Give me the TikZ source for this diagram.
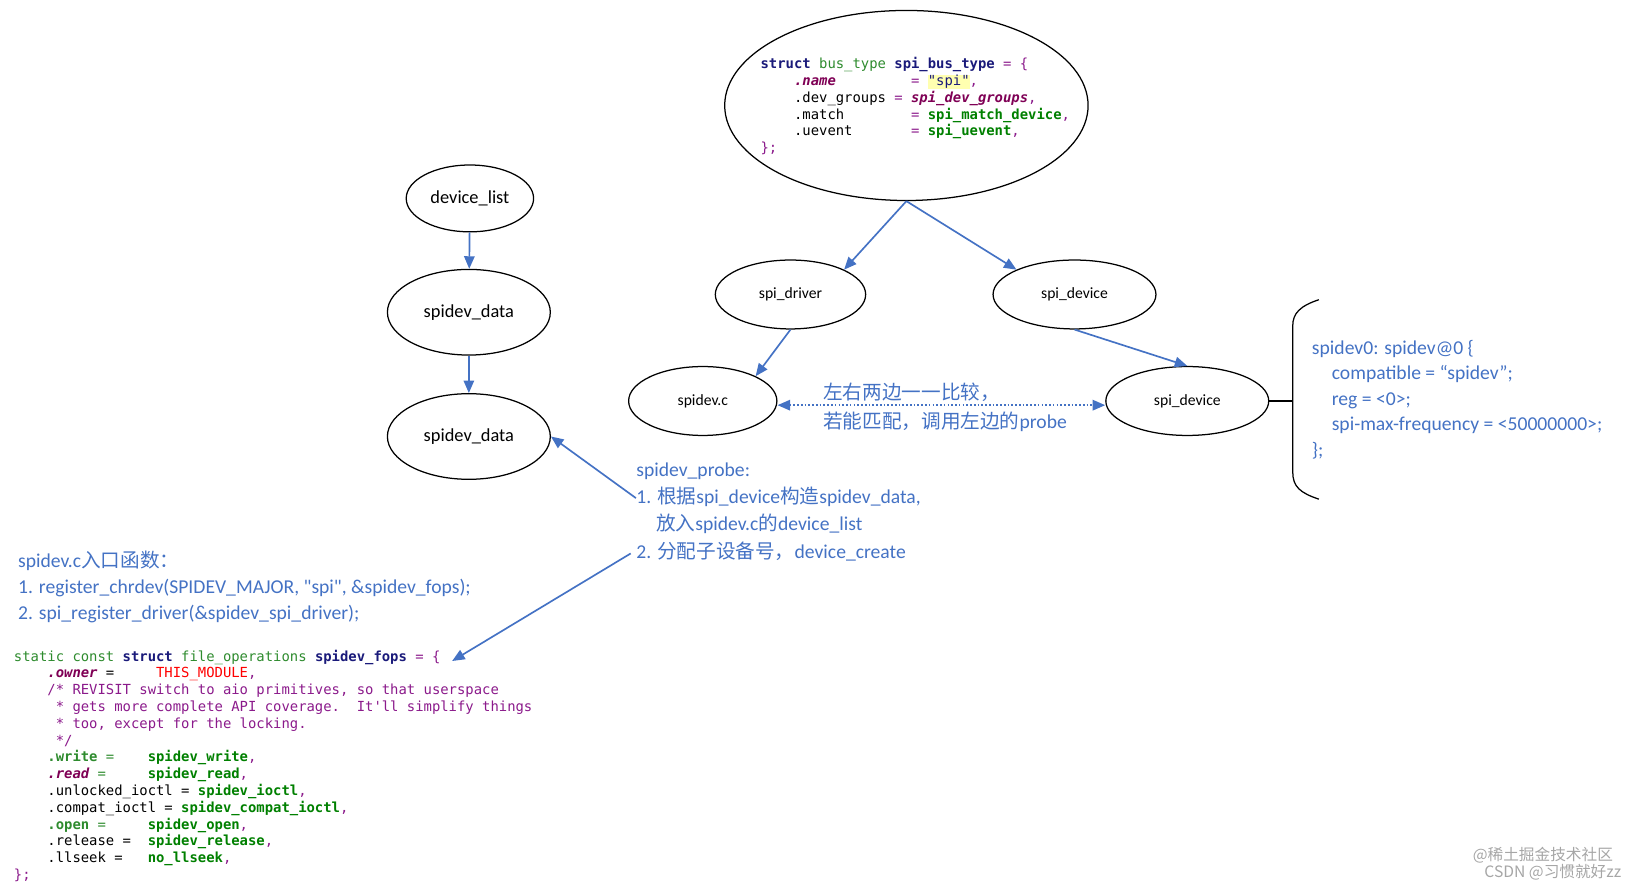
\documentclass[tikz,border=0pt]{standalone}
\usepackage{fontspec}
\setmainfont{Carlito}
\newfontfamily\cjk{Noto Sans CJK SC}
\newfontfamily\code{DejaVu Sans Mono}
\usetikzlibrary{arrows.meta,shapes.geometric}
\definecolor{blu}{HTML}{4472C4}
\definecolor{kw}{HTML}{1A1A7A}
\definecolor{gr}{HTML}{2E8B2E}
\definecolor{fn}{HTML}{008000}
\definecolor{pu}{HTML}{7F0055}
\definecolor{cm}{HTML}{8B1A8B}
\definecolor{hl}{HTML}{FFFFB0}
\newcommand{\cK}[1]{\textcolor{kw}{\bfseries #1}}
\newcommand{\cG}[1]{\textcolor{gr}{#1}}
\newcommand{\cF}[1]{\textcolor{fn}{\bfseries #1}}
\newcommand{\cP}[1]{\textcolor{pu}{\bfseries\itshape #1}}
\newcommand{\cC}[1]{\textcolor{cm}{#1}}
\newcommand{\Ch}[1]{{\cjk #1}}
\begin{document}
\begin{tikzpicture}[x=0.5pt,y=-0.5pt,
  ell/.style={draw,ellipse,line width=0.6pt,inner sep=0pt},
  arr/.style={draw=blu,line width=0.8pt,-{Triangle[length=6pt,width=5pt]}},
  big/.style={font=\fontsize{8.8}{10}\selectfont},
  small/.style={font=\fontsize{7.5}{9}\selectfont},
  bt/.style={anchor=base west,inner sep=0pt,text=blu,font=\fontsize{9.4}{11}\selectfont},
  cd/.style={anchor=base west,inner sep=0pt,font=\code\fontsize{6.65}{8}\selectfont}]
\useasboundingbox (0,0) rectangle (1560,848);
% nodes (sizes in pt = px/2)
\node[ell,minimum width=174pt,minimum height=91pt] (bus) at (868,101) {};
\node[ell,big,minimum width=61pt,minimum height=32pt] (dl) at (450,190) {device\_list};
\node[ell,big,minimum width=78pt,minimum height=41pt] (sd1) at (449,299) {spidev\_data};
\node[ell,big,minimum width=78pt,minimum height=41pt] (sd2) at (449,418) {spidev\_data};
\node[ell,small,minimum width=72pt,minimum height=33pt] (drv) at (757,282) {spi\_driver};
\node[ell,small,minimum width=78pt,minimum height=33pt] (dev) at (1029,282) {spi\_device};
\node[ell,small,minimum width=71pt,minimum height=33pt] (sc) at (673,384) {spidev.c};
\node[ell,small,minimum width=78pt,minimum height=33pt] (dev2) at (1137,384) {spi\_device};
% top code
\foreach \t [count=\i from 0] in {
 {\cK{struct} \cG{bus\_type} \cK{spi\_bus\_type} \textcolor{cm}{= \{}},
 {~~~~\cP{.name}~~~~~~~~~\textcolor{cm}{=}~{\fboxsep=0pt\colorbox{hl}{\textcolor{kw}{"spi"}}}\textcolor{cm}{,}},
 {~~~~.dev\_groups~\textcolor{cm}{=}~\cP{spi\_dev\_groups}\textcolor{cm}{,}},
 {~~~~.match~~~~~~~~\textcolor{cm}{=}~\cF{spi\_match\_device}\textcolor{cm}{,}},
 {~~~~.uevent~~~~~~~\textcolor{cm}{=}~\cF{spi\_uevent}\textcolor{cm}{,}},
 {\textcolor{cm}{\};}}}
 \node[cd] (tc\i) at (728,{66+16*\i}) {\t};
% bottom code
\foreach \t [count=\i from 0] in {
 {\cG{static const} \cK{struct} \cG{file\_operations} \cK{spidev\_fops} \textcolor{cm}{= \{}},
 {~~~~\cP{.owner}~=~~~~~\textcolor{red}{THIS\_MODULE}\textcolor{cm}{,}},
 {~~~~\cC{/* REVISIT switch to aio primitives, so that userspace}},
 {~~~~~\cC{* gets more complete API coverage.~~It'll simplify things}},
 {~~~~~\cC{* too, except for the locking.}},
 {~~~~~\cC{*/}},
 {~~~~\cG{\bfseries .write}~\cG{=}~~~~\cF{spidev\_write}\textcolor{cm}{,}},
 {~~~~\cP{.read}~\cG{=}~~~~~\cF{spidev\_read}\textcolor{cm}{,}},
 {~~~~.unlocked\_ioctl~=~\cF{spidev\_ioctl}\textcolor{cm}{,}},
 {~~~~.compat\_ioctl~=~\cF{spidev\_compat\_ioctl}\textcolor{cm}{,}},
 {~~~~\cG{\bfseries .open}~\cG{=}~~~~~\cF{spidev\_open}\textcolor{cm}{,}},
 {~~~~.release~=~~\cF{spidev\_release}\textcolor{cm}{,}},
 {~~~~.llseek~=~~~\cF{no\_llseek}\textcolor{cm}{,}},
 {\textcolor{cm}{\};}}}
 \node[cd] (bc\i) at (13,{633+16.1*\i}) {\t};
% arrows
\draw[arr] (bus.south) -- (drv.north east);
\draw[arr] (bus.south) -- (dev.north west);
\draw[arr] (drv.south) -- (sc.north east);
\draw[arr] (dev.south) -- (dev2.north);
\draw[arr] (dl) -- (sd1);
\draw[arr] (sd1) -- (sd2);
\draw[draw=blu,line width=0.8pt,densely dotted,{Triangle[length=6pt,width=5pt]}-{Triangle[length=6pt,width=5pt]}] (sc.east |- 0,388) -- (dev2.west |- 0,388);
% texts
\node[bt] (cmp1) at (788,383) {\Ch{左右两边一一比较，}};
\node[bt] (cmp2) at (788,410) {\Ch{若能匹配，调用左边的}probe};
\node[bt] (pr0) at (609,456) {spidev\_probe:};
\node[bt] (pr1) at (609,482) {1. \Ch{根据}spi\_device\Ch{构造}spidev\_data,};
\node[bt] (pr2) at (628,508) {\Ch{放入}spidev.c\Ch{的}device\_list};
\node[bt] (pr3) at (609,535) {2. \Ch{分配子设备号，}device\_create};
\node[bt] (en0) at (17,543) {spidev.c\Ch{入口函数：}};
\node[bt] (en1) at (17,568) {1. register\_chrdev(SPIDEV\_MAJOR, \textquotedbl spi\textquotedbl, \&spidev\_fops);};
\node[bt] (en2) at (17,593) {2. spi\_register\_driver(\&spidev\_spi\_driver);};
\coordinate (p1) at (609,477);
\coordinate (p2) at (604,530);
\coordinate (p3) at (433,633);
\draw[arr] (p1) -- (sd2.east);
\draw[arr] (p2) -- (p3);
% device tree
\node[bt] (dt0) at (1256,339) {spidev0: spidev@0 \{};
\node[bt] (dt1) at (1275,363) {compatible = “spidev”;};
\node[bt] (dt2) at (1275,388) {reg = <0>;};
\node[bt] (dt3) at (1275,412) {spi-max-frequency = <50000000>;};
\node[bt] (dt4) at (1256,437) {\};};
\coordinate (br) at (1238,384);
\draw[line width=0.6pt] (dev2.east) -- (br);
\draw[line width=0.6pt] (1263,287) .. controls (1245,293) and (1238,300) .. (1238,312) -- (1238,452) .. controls (1238,466) and (1245,472) .. (1263,478);
% watermark
\node[anchor=base east,inner sep=0pt,text=gray!70,font=\cjk\fontsize{7.5}{8}\selectfont] (wm1) at (1545,824) {@稀土掘金技术社区};
\node[anchor=base east,inner sep=0pt,text=gray!70,font=\cjk\fontsize{7.5}{8}\selectfont] (wm2) at (1553,840) {CSDN @习惯就好zz};
\end{tikzpicture}
\end{document}
